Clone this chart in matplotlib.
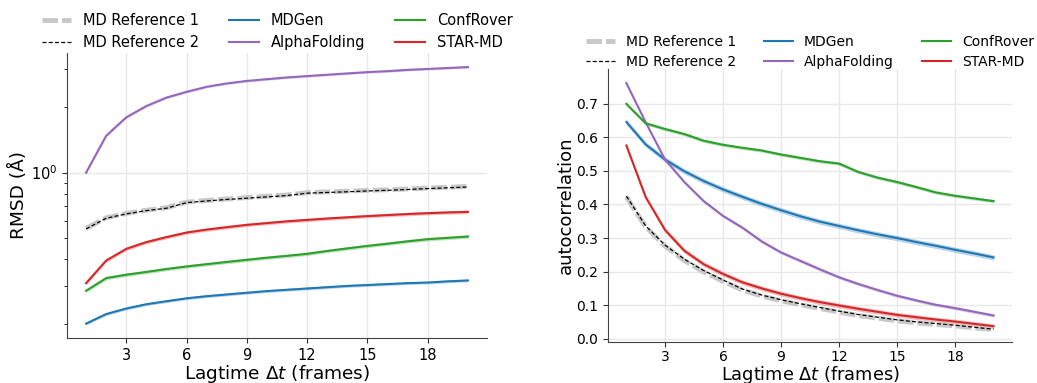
import numpy as np
import matplotlib
matplotlib.use("Agg")
import matplotlib.pyplot as plt

lag = np.arange(1, 21)

# RMSD (Angstrom), log scale
rmsd_ref1 = [0.553, 0.619, 0.648, 0.671, 0.689, 0.731, 0.744, 0.756, 0.767, 0.778,
             0.789, 0.809, 0.815, 0.821, 0.828, 0.834, 0.841, 0.849, 0.856, 0.864]
rmsd_ref2 = [0.550, 0.616, 0.645, 0.668, 0.685, 0.727, 0.740, 0.752, 0.762, 0.773,
             0.784, 0.804, 0.810, 0.816, 0.823, 0.829, 0.836, 0.844, 0.851, 0.859]
rmsd_mdgen = [0.201, 0.2225, 0.236, 0.247, 0.255, 0.263, 0.269, 0.274, 0.279, 0.284,
              0.288, 0.292, 0.296, 0.300, 0.303, 0.306, 0.309, 0.311, 0.315, 0.318]
rmsd_alpha = [1.00, 1.48, 1.80, 2.03, 2.22, 2.36, 2.49, 2.58, 2.65, 2.70,
              2.75, 2.79, 2.83, 2.87, 2.91, 2.94, 2.98, 3.01, 3.04, 3.07]
rmsd_confrover = [0.285, 0.326, 0.338, 0.348, 0.359, 0.369, 0.378, 0.387, 0.396, 0.405,
                  0.413, 0.422, 0.435, 0.447, 0.459, 0.470, 0.482, 0.493, 0.500, 0.507]
rmsd_starmd = [0.309, 0.393, 0.445, 0.478, 0.504, 0.529, 0.546, 0.560, 0.574, 0.585,
               0.596, 0.605, 0.614, 0.622, 0.630, 0.637, 0.644, 0.650, 0.655, 0.659]

# autocorrelation
ac_ref1 = [0.423, 0.333, 0.276, 0.233, 0.199, 0.171, 0.145, 0.127, 0.113, 0.101,
           0.090, 0.079, 0.069, 0.061, 0.053, 0.047, 0.042, 0.038, 0.032, 0.027]
ac_ref2 = [0.425, 0.336, 0.279, 0.237, 0.203, 0.175, 0.148, 0.130, 0.116, 0.104,
           0.093, 0.082, 0.072, 0.064, 0.056, 0.050, 0.045, 0.040, 0.034, 0.028]
ac_mdgen = [0.646, 0.579, 0.534, 0.499, 0.470, 0.445, 0.423, 0.402, 0.383, 0.365,
            0.349, 0.336, 0.323, 0.311, 0.300, 0.288, 0.277, 0.265, 0.254, 0.242]
ac_alpha = [0.762, 0.645, 0.534, 0.467, 0.410, 0.366, 0.331, 0.290, 0.257, 0.232,
            0.207, 0.183, 0.163, 0.145, 0.128, 0.114, 0.101, 0.091, 0.080, 0.069]
ac_confrover = [0.700, 0.642, 0.625, 0.610, 0.590, 0.578, 0.569, 0.561, 0.549, 0.539,
                0.529, 0.522, 0.497, 0.480, 0.467, 0.452, 0.436, 0.426, 0.418, 0.410]
ac_starmd = [0.576, 0.422, 0.324, 0.262, 0.222, 0.193, 0.168, 0.150, 0.134, 0.121,
             0.109, 0.099, 0.089, 0.080, 0.071, 0.064, 0.057, 0.051, 0.044, 0.037]

# band half-widths (relative for RMSD, absolute for autocorrelation)
rmsd_spread = {"MDGen": 0.015, "AlphaFolding": 0.012, "ConfRover": 0.018, "STAR-MD": 0.018}
ac_spread = {"MDGen": 0.008, "AlphaFolding": 0.005, "ConfRover": 0.005, "STAR-MD": 0.007}

colors = {"MDGen": "#1f77b4", "AlphaFolding": "#9467bd",
          "ConfRover": "#2ca02c", "STAR-MD": "#d62728"}

plt.rcParams["font.family"] = "DejaVu Sans"
fig = plt.figure(figsize=(10.37, 3.83), dpi=100)
W, H = 1037, 383
ax1 = fig.add_axes([67 / W, 1 - 338 / H, (487 - 67) / W, (338 - 53) / H])
ax2 = fig.add_axes([608 / W, 1 - 342 / H, (1012 - 608) / W, (342 - 69) / H])


def draw(ax, ref1, ref2, models, spread, relative, fs, lfs, pad, anchor):
    ax.plot(lag, ref1, color="#c8c8c8", lw=3.5, ls=(0, (3.2, 0.8)), label="MD Reference 1", zorder=3)
    ax.plot(lag, ref2, color="black", lw=0.9, ls=(0, (3.2, 1.8)), label="MD Reference 2", zorder=4)
    for name, vals in models:
        vals = np.array(vals)
        s = spread[name]
        lo, hi = (vals * (1 - s), vals * (1 + s)) if relative else (vals - s, vals + s)
        ax.fill_between(lag, lo, hi, color=colors[name], alpha=0.3, lw=0)
        ax.plot(lag, vals, color=colors[name], lw=1.5, label=name, zorder=5)
    ax.set_xticks([3, 6, 9, 12, 15, 18])
    ax.set_xlabel(r"Lagtime $\Delta t$ (frames)", fontsize=lfs, labelpad=pad)
    ax.tick_params(labelsize=fs, color="#333333")
    for sp in ["top", "right"]:
        ax.spines[sp].set_visible(False)
    for sp in ["left", "bottom"]:
        ax.spines[sp].set_color("#444444")
    ax.grid(True, color="#e8e8e8", lw=1)
    ax.set_axisbelow(True)
    ax.legend(loc="lower center", bbox_to_anchor=(0.5, anchor), ncol=3, frameon=False,
              fontsize=fs, handlelength=2.05, handletextpad=0.8, columnspacing=2.05,
              borderaxespad=0.2, labelspacing=0.45)


draw(ax1, rmsd_ref1, rmsd_ref2,
     [("MDGen", rmsd_mdgen), ("AlphaFolding", rmsd_alpha),
      ("ConfRover", rmsd_confrover), ("STAR-MD", rmsd_starmd)],
     rmsd_spread, True, 10.5, 13.3, 0, 0.98)
ax1.set_yscale("log")
ax1.set_ylabel("RMSD (Å)", fontsize=13.3, labelpad=2)

draw(ax2, ac_ref1, ac_ref2,
     [("MDGen", ac_mdgen), ("AlphaFolding", ac_alpha),
      ("ConfRover", ac_confrover), ("STAR-MD", ac_starmd)],
     ac_spread, False, 10.0, 12.8, -0.5, 0.97)
ax2.tick_params(axis="x", pad=2.5)
ax2.set_yticks(np.arange(0, 0.75, 0.1))
ax2.set_ylabel("autocorrelation", fontsize=13.0, labelpad=1)

fig.savefig("out.png", dpi=100)
